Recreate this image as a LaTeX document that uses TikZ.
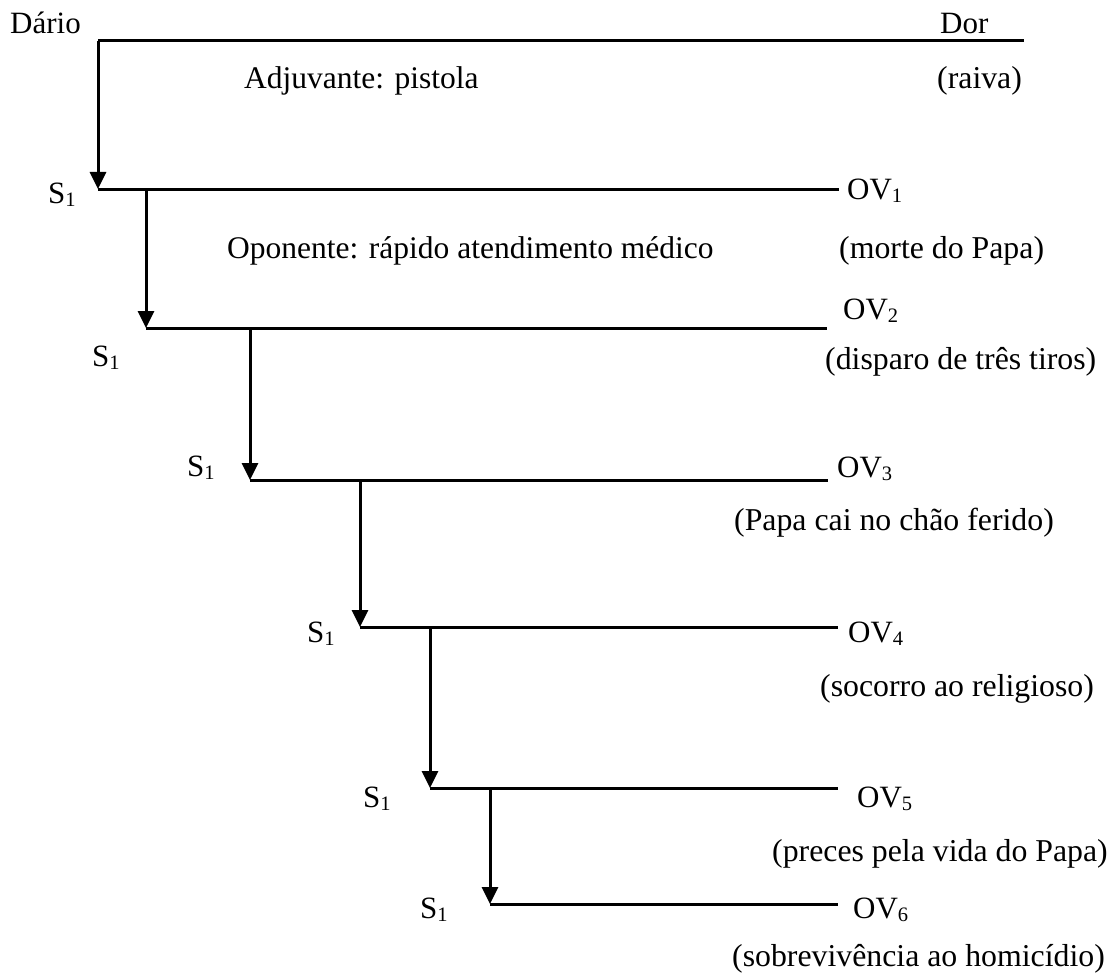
\documentclass[tikz,border=0pt]{standalone}
\usepackage{fontspec}
\setmainfont{Liberation Serif}
\usetikzlibrary{arrows.meta}
\newcommand\lowsub[1]{\raisebox{-3pt}{\fontsize{20.5}{20.5}\selectfont #1}}
\begin{document}
\begin{tikzpicture}[x=1pt,y=-1pt,
  lbl/.style={anchor=base west,inner sep=0pt,font=\fontsize{31}{36}\selectfont},
  note/.style={lbl,font=\fontsize{31.8}{36}\selectfont},
  role/.style={lbl,font=\fontsize{31.5}{36}\selectfont},
  bar/.style={line width=3pt},
  down/.style={line width=3pt,-{Triangle[length=17pt,width=16pt]}}]
\useasboundingbox (0,0) rectangle (1114,979);

% horizontal lines: start and end of each level
\coordinate (a0) at (98,41);   \coordinate (b0) at (1024,41);
\coordinate (a1) at (98,189);  \coordinate (b1) at (839,189);
\coordinate (a2) at (146,328); \coordinate (b2) at (827,328);
\coordinate (a3) at (250,480); \coordinate (b3) at (828,480);
\coordinate (a4) at (360,627); \coordinate (b4) at (838,627);
\coordinate (a5) at (430,788); \coordinate (b5) at (838,788);
\coordinate (a6) at (490,904); \coordinate (b6) at (838,904);

% where each arrow leaves the level above
\coordinate (f1) at (98,41);
\coordinate (f2) at (146,189);
\coordinate (f3) at (250,328);
\coordinate (f4) at (360,480);
\coordinate (f5) at (430,627);
\coordinate (f6) at (490,788);

\foreach \i in {0,...,6} {\draw[bar] (a\i) -- (b\i);}
\foreach \i in {1,...,6} {\draw[down] (f\i) -- (a\i);}

% labels
\node[lbl] (dario) at (10,34) {Dário};
\node[lbl] (dor) at (940,34) {Dor};
\node[role] (adj) at (244,89) {Adjuvante: pistola};
\node[note] (raiva) at (937,89) {(raiva)};

\node[lbl] (s1) at (48,203) {S\lowsub{1}};
\node[lbl] (ov1) at (847,199) {OV\lowsub{1}};
\node[role] (opo) at (227,258) {Oponente: rápido atendimento médico};
\node[note] (t1) at (839,258) {(morte do Papa)};

\node[lbl] (ov2) at (843,319) {OV\lowsub{2}};
\node[lbl] (s2) at (92,366) {S\lowsub{1}};
\node[note] (t2) at (825,369) {(disparo de três tiros)};

\node[lbl] (s3) at (187,476) {S\lowsub{1}};
\node[lbl] (ov3) at (837,477) {OV\lowsub{3}};
\node[note] (t3) at (734,530) {(Papa cai no chão ferido)};

\node[lbl] (s4) at (307,642) {S\lowsub{1}};
\node[lbl] (ov4) at (848,642) {OV\lowsub{4}};
\node[note] (t4) at (820,696) {(socorro ao religioso)};

\node[lbl] (s5) at (363,807) {S\lowsub{1}};
\node[lbl] (ov5) at (857,807) {OV\lowsub{5}};
\node[note] (t5) at (772,861) {(preces pela vida do Papa)};

\node[lbl] (s6) at (420,918) {S\lowsub{1}};
\node[lbl] (ov6) at (853,918) {OV\lowsub{6}};
\node[note] (t6) at (732,966) {(sobrevivência ao homicídio)};
\end{tikzpicture}
\end{document}
